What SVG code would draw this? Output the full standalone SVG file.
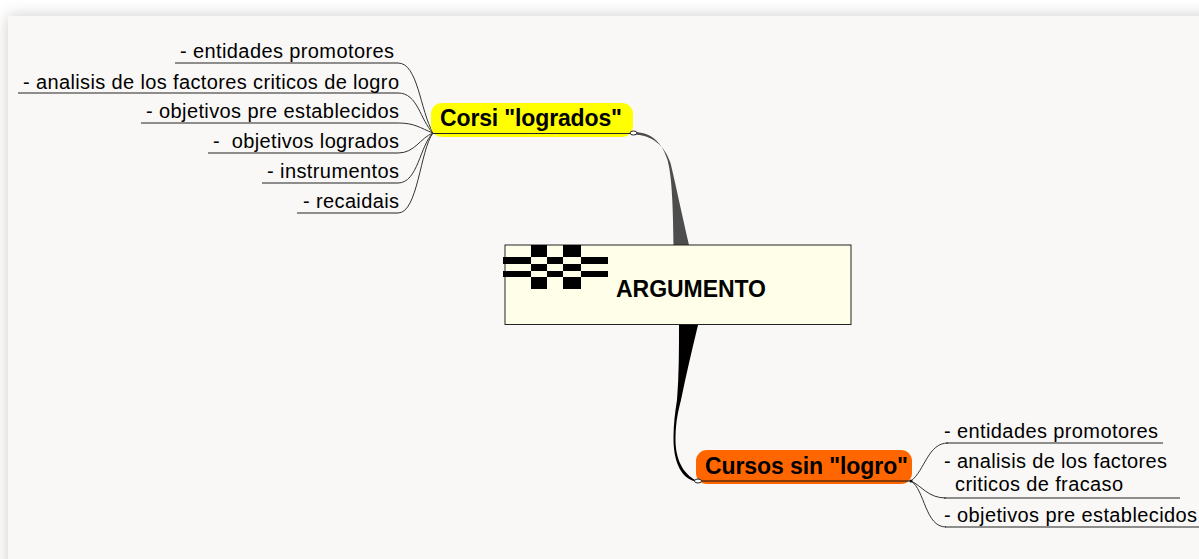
<svg xmlns="http://www.w3.org/2000/svg" width="1199" height="559" viewBox="0 0 1199 559">
<style>
text{font-family:"Liberation Sans",Arial,sans-serif;fill:#000}
.leaf{font-size:20px}
.branch{font-size:23px;font-weight:bold}
.ln{fill:none;stroke:#333;stroke-width:1}
.ul{fill:none;stroke:#222;stroke-width:1.2}
.k{fill:#000}
</style>
<defs><filter id="sh" x="-5%" y="-5%" width="110%" height="110%"><feGaussianBlur stdDeviation="8"/></filter></defs>
<rect width="1199" height="559" fill="#fff"/>
<rect x="8" y="16" width="1300" height="600" fill="#aaa" opacity=".6" filter="url(#sh)"/>
<rect x="8" y="16" width="1191" height="543" fill="#f9f8f6"/>
<g id="connectors">
<path d="M633 132C651 132 662 142 667.500 160C671.500 175 673 200 673.500 245L689 245C682 215 677 190 670.500 163C665 146 652 134.500 633 134.500Z" fill="#4d4d4d"/>
<path d="M679 325L698 325C692 350 686 375 681 400C678 412 676 420 675.500 437C675 458 682 474 698 481.500C682 481 673 462 673.500 437C673.500 425 675 412 677 400C679 375 679 350 679 325Z" fill="#000"/>
<path class="ln" d="M433 133C420 110 418 63 398 63"/>
<path class="ln" d="M433 133C420 120 418 93 398 93"/>
<path class="ln" d="M433 133C420 128 415 123 398 123"/>
<path class="ln" d="M433 133C420 138 415 153 398 153"/>
<path class="ln" d="M433 133C420 145 418 183 398 183"/>
<path class="ln" d="M433 133C420 150 418 213 398 213"/>
<path class="ln" d="M911 481C925 470 928 443 948 443"/>
<path class="ln" d="M911 481C922 486 928 498 946 498"/>
<path class="ln" d="M911 481C925 490 925 527 946 527"/>
</g>
<g id="node-center">
<rect x="505" y="245" width="346" height="79.500" fill="#fffee8" stroke="#222" stroke-width="1"/>
<path class="k" d="M531 245h16v12h-16zM563 245h18v12h-18zM503 257h28v7h-28zM547 257h16v7h-16zM581 257h27v7h-27zM531 264h16v7h-16zM563 264h18v7h-18zM503 271h28v6h-28zM547 271h16v6h-16zM581 271h27v6h-27zM531 277h16v12h-16zM563 277h18v12h-18z"/>
<text x="616" y="297" font-size="23" font-weight="bold" textLength="150">ARGUMENTO</text>
</g>
<g id="node-logrados">
<rect x="431" y="103" width="202" height="34" rx="11" fill="#ffff00"/>
<path d="M433 133.500H631" stroke="#222" stroke-width="1.200"/>
<ellipse cx="633.500" cy="133" rx="3.500" ry="2" fill="#fff" stroke="#222"/>
<text class="branch" x="440" y="126" textLength="182">Corsi "logrados"</text>
</g>
<g id="node-sin-logro">
<rect x="696" y="450" width="216" height="34" rx="11" fill="#ff6600"/>
<path d="M698 481H911" stroke="#111" stroke-width="1.200"/>
<ellipse cx="698" cy="481" rx="3.500" ry="2" fill="#fff" stroke="#222"/>
<circle cx="911" cy="481" r="1.500" fill="#111"/>
<text class="branch" x="705" y="474" textLength="203">Cursos sin "logro"</text>
</g>
<g id="leaf-1"><path class="ul" d="M175 63H398"/><text class="leaf" x="180" y="57.500" textLength="214">- entidades promotores</text></g>
<g id="leaf-2"><path class="ul" d="M18 93H398"/><text class="leaf" x="23" y="88.500" textLength="376">- analisis de los factores criticos de logro</text></g>
<g id="leaf-3"><path class="ul" d="M141 123H398"/><text class="leaf" x="146" y="117.500" textLength="253">- objetivos pre establecidos</text></g>
<g id="leaf-4"><path class="ul" d="M208 153H398"/><text class="leaf" x="213" y="147.500" textLength="186" xml:space="preserve">-  objetivos logrados</text></g>
<g id="leaf-5"><path class="ul" d="M262 183H398"/><text class="leaf" x="267" y="177.500" textLength="132">- instrumentos</text></g>
<g id="leaf-6"><path class="ul" d="M297 213H398"/><text class="leaf" x="303" y="207.500" textLength="96">- recaidais</text></g>
<g id="leaf-7"><path class="ul" d="M946 443H1163"/><text class="leaf" x="944" y="437.500" textLength="214">- entidades promotores</text></g>
<g id="leaf-8"><path class="ul" d="M944 498H1180"/><text class="leaf" x="944" y="467.500" textLength="223">- analisis de los factores</text><text class="leaf" x="955" y="491" textLength="168">criticos de fracaso</text></g>
<g id="leaf-9"><path class="ul" d="M945 527H1199"/><text class="leaf" x="944" y="521.500" textLength="253">- objetivos pre establecidos</text></g>
</svg>
